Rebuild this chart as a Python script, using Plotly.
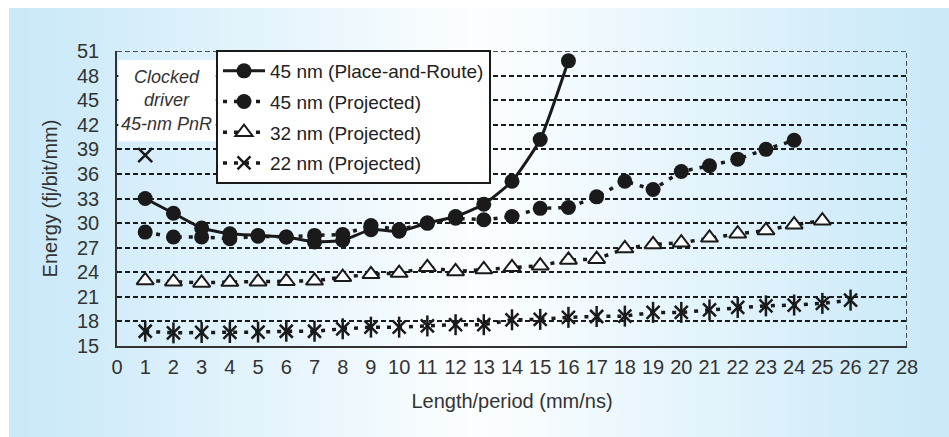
import plotly.graph_objects as go

# ---------------- data ----------------
x_pnr = [1, 2, 3, 4, 5, 6, 7, 8, 9, 10, 11, 12, 13, 14, 15, 16]
y_pnr = [33.0, 31.2, 29.4, 28.7, 28.5, 28.3, 27.7, 27.9, 29.2, 29.0, 30.0, 30.8, 32.3, 35.1, 40.2, 49.8]

x_p45 = list(range(1, 25))
y_p45 = [28.9, 28.3, 28.3, 28.1, 28.4, 28.3, 28.5, 28.6, 29.7, 29.2, 30.0, 30.6, 30.4,
         30.8, 31.8, 31.9, 33.2, 35.1, 34.1, 36.3, 37.0, 37.8, 39.0, 40.1]

x_p32 = list(range(1, 26))
y_p32 = [23.0, 22.85, 22.7, 22.8, 22.85, 22.9, 22.95, 23.4, 23.75, 23.9, 24.6, 24.1, 24.35,
         24.6, 24.8, 25.5, 25.6, 26.9, 27.4, 27.6, 28.2, 28.7, 29.1, 29.8, 30.3]

x_p22 = list(range(1, 27))
y_p22 = [16.8, 16.6, 16.65, 16.65, 16.7, 16.8, 16.8, 17.1, 17.3, 17.3, 17.45, 17.6, 17.6,
         18.2, 18.25, 18.5, 18.6, 18.65, 19.1, 19.1, 19.4, 19.7, 19.9, 20.0, 20.2, 20.6]

x_clocked = [1]
y_clocked = [38.3]

x_ticks = list(range(0, 29))
y_ticks = list(range(15, 52, 3))

series_names = ["45 nm (Place-and-Route)", "45 nm (Projected)", "32 nm (Projected)", "22 nm (Projected)"]
note_text = "<i>Clocked<br>driver<br>45-nm PnR</i>"

# ---------------- figure ----------------
FONT = "Liberation Sans, Arial, Helvetica, sans-serif"
INK = "#1a1a1a"
TXT = "#333333"
DOT = "4px,7px"

fig = go.Figure()

fig.add_trace(go.Scatter(
    x=x_pnr, y=y_pnr, name=series_names[0], mode="lines+markers", legendgroup="g1",
    line=dict(color=INK, width=3, shape="spline", smoothing=0.5),
    marker=dict(symbol="circle", size=15, color=INK)))

fig.add_trace(go.Scatter(
    x=x_p45, y=y_p45, name=series_names[1], mode="lines+markers", legendgroup="g2",
    line=dict(color=INK, width=3.5, dash=DOT),
    marker=dict(symbol="circle", size=15, color=INK)))

fig.add_trace(go.Scatter(
    x=x_p32, y=y_p32, name=series_names[2], mode="lines+markers", legendgroup="g3",
    line=dict(color=INK, width=3.5, dash=DOT),
    marker=dict(symbol="triangle-up", size=15, color="white",
                line=dict(color=INK, width=2))))

fig.add_trace(go.Scatter(
    x=x_p22, y=y_p22, name=series_names[3], mode="lines+markers",
    line=dict(color=INK, width=3.5, dash=DOT), legendgroup="g4",
    marker=dict(symbol="x-thin-open", size=13, color=INK,
                line=dict(color=INK, width=2.5))))
fig.add_trace(go.Scatter(
    x=x_p22, y=y_p22, mode="markers", showlegend=False, legendgroup="g4",
    marker=dict(symbol="line-ns-open", size=15, color=INK,
                line=dict(color=INK, width=2.5))))

fig.add_trace(go.Scatter(
    x=x_clocked, y=y_clocked, mode="markers", showlegend=False, legendgroup="g5",
    marker=dict(symbol="x-thin-open", size=14, color=INK,
                line=dict(color=INK, width=2.5))))

# ---------------- background gradient (decoration) ----------------
L, R, T, B = 117, 907, 51, 346
W, H = R - L, B - T
def px2paper_x(p):
    return (p - L) / W
def px2paper_y(p):
    return (B - p) / H

edge = (200, 232, 248)
mid = (252, 254, 255)
shapes = []
n = 94
x0p, x1p = 9, 949
for i in range(n):
    a = x0p + (x1p - x0p) * i / n
    b = x0p + (x1p - x0p) * (i + 1) / n
    c = (a + b) / 2
    t = abs(c - 479) / 470.0
    col = tuple(round(mid[k] + (edge[k] - mid[k]) * t) for k in range(3))
    shapes.append(dict(type="rect", xref="paper", yref="paper", layer="below",
                       x0=px2paper_x(a), x1=px2paper_x(b) + 0.002,
                       y0=px2paper_y(450), y1=px2paper_y(8),
                       line=dict(width=0), fillcolor="rgb(%d,%d,%d)" % col))

# right dashed border
shapes.append(dict(type="line", xref="x", yref="y", x0=28, x1=28, y0=15, y1=51,
                   line=dict(color=INK, width=1.5, dash="5px,3px"), layer="below"))
# top dashed line
shapes.append(dict(type="line", xref="x", yref="y", x0=0, x1=28, y0=51, y1=51,
                   line=dict(color=INK, width=1.5, dash="5px,3px"), layer="below"))
# white note box
shapes.append(dict(type="rect", xref="x", yref="y", x0=0.05, x1=3.5, y0=40.0, y1=49.9,
                   line=dict(width=0), fillcolor="white", layer="above"))

fig.update_layout(
    width=949, height=437,
    margin=dict(l=L, r=949 - R, t=T, b=437 - B, autoexpand=False),
    paper_bgcolor="white", plot_bgcolor="rgba(0,0,0,0)",
    font=dict(family=FONT, size=18, color=TXT),
    shapes=shapes,
    showlegend=True,
    legend=dict(x=px2paper_x(216), y=px2paper_y(50), xanchor="left", yanchor="top",
                bgcolor="white", bordercolor=INK, borderwidth=2,
                font=dict(family=FONT, size=19, color="#222222"),
                itemwidth=42, tracegroupgap=3, traceorder="grouped"),
    annotations=[dict(xref="x", yref="y", x=1.77, y=45.0, text=note_text, showarrow=False,
                      font=dict(family=FONT, size=18, color=TXT), align="center")],
)

fig.update_xaxes(range=[0, 28], tickvals=x_ticks, ticktext=[str(v) for v in x_ticks],
                 showgrid=False, zeroline=False, showline=True, linecolor=TXT,
                 linewidth=1.5, ticks="", ticklabelstandoff=2, automargin=False,
                 tickfont=dict(size=20, color=TXT),
                 title=dict(text="Length/period (mm/ns)", font=dict(size=20, color=TXT),
                            standoff=17))
fig.update_yaxes(range=[15, 51], tickvals=y_ticks, ticktext=[str(v) for v in y_ticks],
                 showgrid=True, gridcolor=INK, gridwidth=1.5, griddash="5px,3px",
                 zeroline=False, showline=True, linecolor=TXT, linewidth=1.5,
                 ticks="", ticklabelstandoff=12, automargin=False,
                 tickfont=dict(size=20, color=TXT),
                 title=dict(text="Energy (fj/bit/mm)", font=dict(size=20, color=TXT),
                            standoff=14))

fig.write_html("out.html", config={"displayModeBar": False},
               post_script="document.body.style.margin='0px';")
